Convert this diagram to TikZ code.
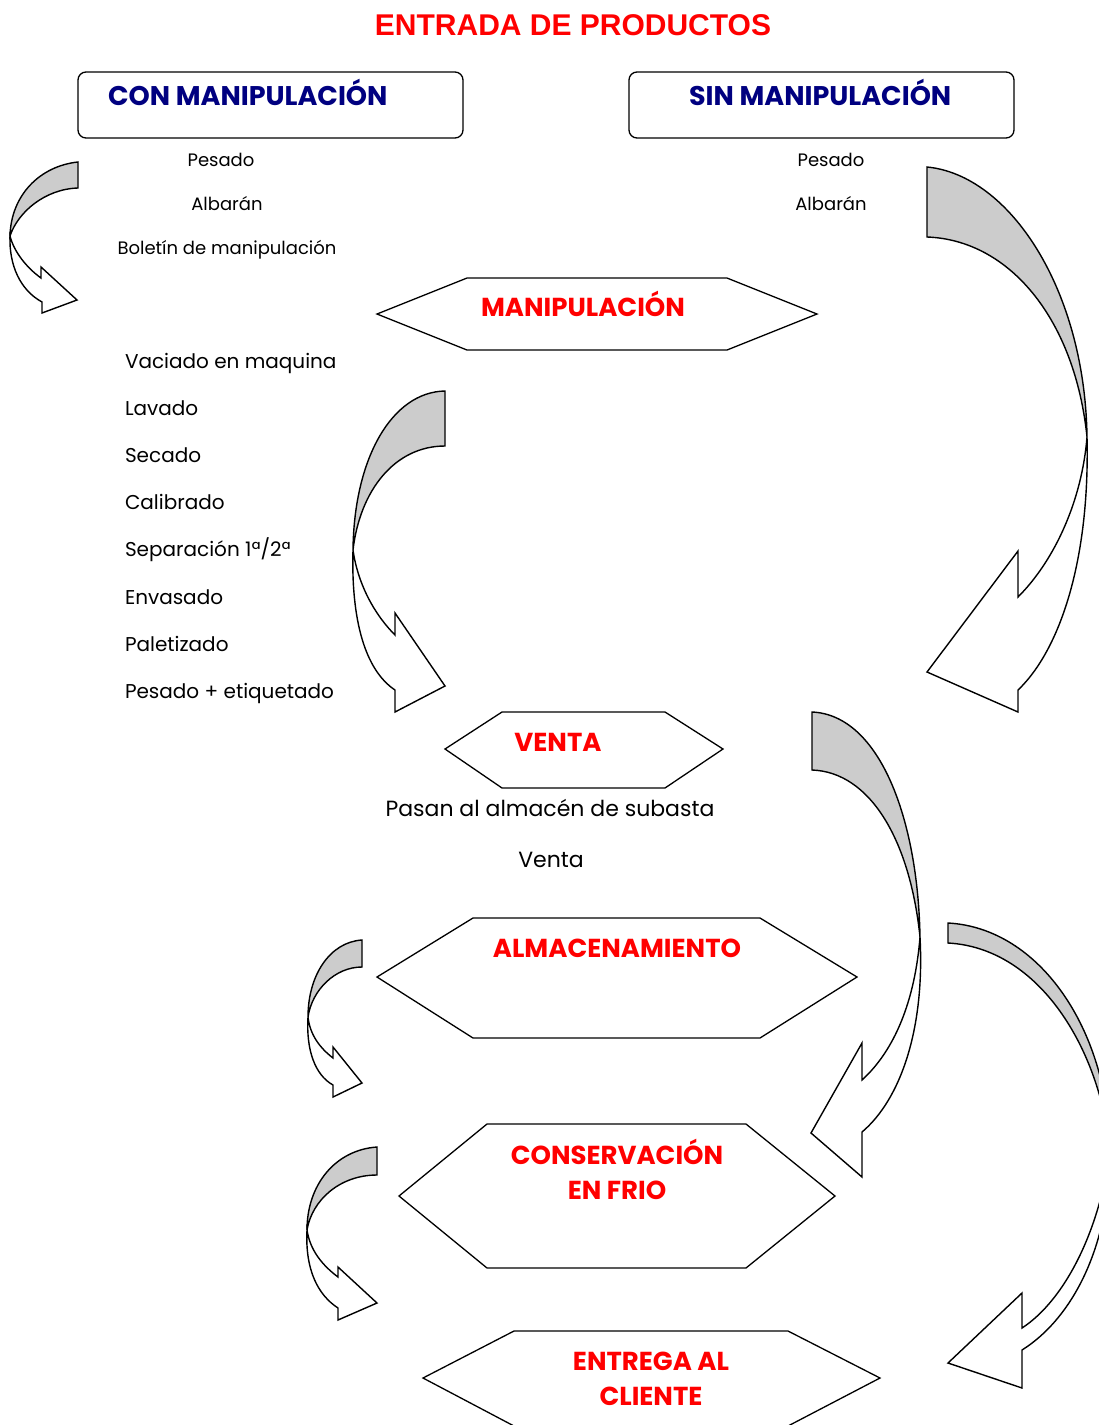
\documentclass[tikz,border=0pt]{standalone}
\usepackage{fontspec}
\setmainfont{Poppins}
\newfontfamily\arialfont{Liberation Sans}
\definecolor{navyc}{RGB}{0,0,128}
\definecolor{redc}{RGB}{255,0,0}
\definecolor{arrgray}{RGB}{204,204,204}
\begin{document}
\begin{tikzpicture}[x=1pt,y=-1pt,
  every node/.style={inner sep=0pt, outer sep=0pt},
  shapeline/.style={draw=black, line width=1.4pt},
  bandup/.style={shapeline, fill=arrgray},
  banddown/.style={shapeline, fill=white},
  hexline/.style={draw=black, line width=1.3pt},
  boxstyle/.style={draw=black, line width=1.3pt, rounded corners=8pt, minimum width=385pt, minimum height=66pt},
  titletxt/.style={font=\arialfont\bfseries\fontsize{30}{36}\selectfont, text=redc, anchor=base},
  headblue/.style={font=\bfseries\fontsize{27}{32}\selectfont, text=navyc, anchor=base west},
  headred/.style={font=\bfseries\fontsize{26}{31}\selectfont, text=redc, anchor=base},
  smalltxt/.style={font=\fontsize{18}{22}\selectfont, anchor=base},
  listtxt/.style={font=\fontsize{20}{24}\selectfont, anchor=base west},
  midtxt/.style={font=\fontsize{22}{26}\selectfont, anchor=base}
]
\useasboundingbox (0,0) rectangle (1099,1425);
\clip (0,0) rectangle (1099,1425);

% title
\node[titletxt] (title) at (573,35) {ENTRADA DE PRODUCTOS};

% top boxes
\node[boxstyle] (conbox) at (270.5,105) {};
\node[headblue] (contxt) at (108,105) {CON MANIPULACIÓN};
\node[boxstyle] (sinbox) at (821.5,105) {};
\node[headblue] (sintxt) at (689,105) {SIN MANIPULACIÓN};

% small texts
\node[smalltxt] (pesL) at (221,166) {Pesado};
\node[smalltxt] (albL) at (227,210) {Albarán};
\node[smalltxt] (bolL) at (227,254) {Boletín de manipulación};
\node[smalltxt] (pesR) at (831,166) {Pesado};
\node[smalltxt] (albR) at (831,210) {Albarán};

% hexagon MANIPULACION
\draw[hexline] (377,314) -- (467,278) -- (727,278) -- (817,314) -- (727,350) -- (467,350) -- cycle;
\node[headred] (maniptxt) at (583,316) {MANIPULACIÓN};

% list
\node[listtxt] (l1) at (125,368) {Vaciado en maquina};
\node[listtxt] (l2) at (125,415) {Lavado};
\node[listtxt] (l3) at (125,462) {Secado};
\node[listtxt] (l4) at (125,509) {Calibrado};
\node[listtxt] (l5) at (125,556) {Separación 1ª/2ª};
\node[listtxt] (l6) at (125,604) {Envasado};
\node[listtxt] (l7) at (125,651) {Paletizado};
\node[listtxt] (l8) at (125,698) {Pesado + etiquetado};

% hexagon VENTA
\draw[hexline] (445,749) -- (502,712) -- (665,712) -- (723,749) -- (665,788) -- (502,788) -- cycle;
\node[headred] (ventatxt) at (558,751) {VENTA};
\node[midtxt] (pasan) at (550,816) {Pasan al almacén de subasta};
\node[midtxt] (venta2) at (551,867) {Venta};

% hexagon ALMACENAMIENTO
\draw[hexline] (377,977) -- (473,918) -- (760,918) -- (857,977) -- (760,1038) -- (473,1038) -- cycle;
\node[headred] (almtxt) at (617,957) {ALMACENAMIENTO};

% hexagon CONSERVACION
\draw[hexline] (399,1196) -- (487,1124) -- (746,1124) -- (835,1196) -- (746,1268) -- (487,1268) -- cycle;
\node[headred] (cons1) at (617,1164) {CONSERVACIÓN};
\node[headred] (cons2) at (617,1199) {EN FRIO};

% hexagon ENTREGA
\draw[hexline] (423,1378) -- (514,1331) -- (788,1331) -- (880,1378) -- (788,1426) -- (514,1426) -- cycle;
\node[headred] (ent1) at (651,1370) {ENTREGA AL};
\node[headred] (ent2) at (651,1405) {CLIENTE};

% ---- curved arrows ----
% A1
\draw[bandup] (78,162) .. controls (40,166) and (11,195) .. (10,236) .. controls (18,212) and (45,189) .. (78,188) -- cycle;
\draw[banddown] (10,236) .. controls (9,265) and (20,290) .. (42,302) -- (42,313) -- (77,300) -- (41,267) -- (41,278) .. controls (27,268) and (14,252) .. (10,236) -- cycle;
% A2
\draw[bandup] (445,391) .. controls (392,392) and (354,458) .. (353,550) .. controls (360,490) and (395,446) .. (445,446) -- cycle;
\draw[banddown] (353,550) .. controls (351,620) and (365,670) .. (395,690) -- (395,712) -- (445,686) -- (395,613) -- (395,635) .. controls (375,615) and (358,585) .. (353,550) -- cycle;
% A3
\draw[bandup] (362,940) .. controls (330,942) and (308,975) .. (308,1017) .. controls (312,990) and (335,967) .. (362,967) -- cycle;
\draw[banddown] (308,1017) .. controls (306,1050) and (315,1075) .. (333,1085) -- (333,1097) -- (362,1083) -- (333,1047) -- (333,1058) .. controls (320,1048) and (310,1035) .. (308,1017) -- cycle;
% A4
\draw[bandup] (377,1147) .. controls (335,1150) and (307,1185) .. (307,1230) .. controls (312,1200) and (340,1175) .. (377,1175) -- cycle;
\draw[banddown] (307,1230) .. controls (305,1270) and (318,1295) .. (338,1308) -- (338,1320) -- (377,1303) -- (338,1267) -- (338,1277) .. controls (322,1265) and (310,1250) .. (307,1230) -- cycle;
% A5
\draw[bandup] (927,167) .. controls (1010,175) and (1085,290) .. (1087,437) .. controls (1075,320) and (1010,240) .. (927,237) -- cycle;
\draw[banddown] (1087,437) .. controls (1090,560) and (1060,650) .. (1018,690) -- (1018,712) -- (927,672) -- (1018,551) -- (1018,597) .. controls (1055,560) and (1082,500) .. (1087,437) -- cycle;
% A6
\draw[bandup] (812,712) .. controls (880,715) and (918,820) .. (920,937) .. controls (910,840) and (870,772) .. (812,770) -- cycle;
\draw[banddown] (920,937) .. controls (925,1030) and (900,1100) .. (862,1132) -- (862,1177) -- (811,1133) -- (862,1043) -- (862,1080) .. controls (895,1050) and (915,1000) .. (920,937) -- cycle;
% A7
\draw[bandup] (948,923) .. controls (1040,928) and (1108,1030) .. (1110,1150) .. controls (1100,1050) and (1040,948) .. (948,943) -- cycle;
\draw[banddown] (1110,1150) .. controls (1110,1250) and (1070,1320) .. (1022,1350) -- (1022,1388) -- (948,1363) -- (1022,1293) -- (1022,1328) .. controls (1065,1300) and (1100,1230) .. (1110,1150) -- cycle;
\end{tikzpicture}
\end{document}
